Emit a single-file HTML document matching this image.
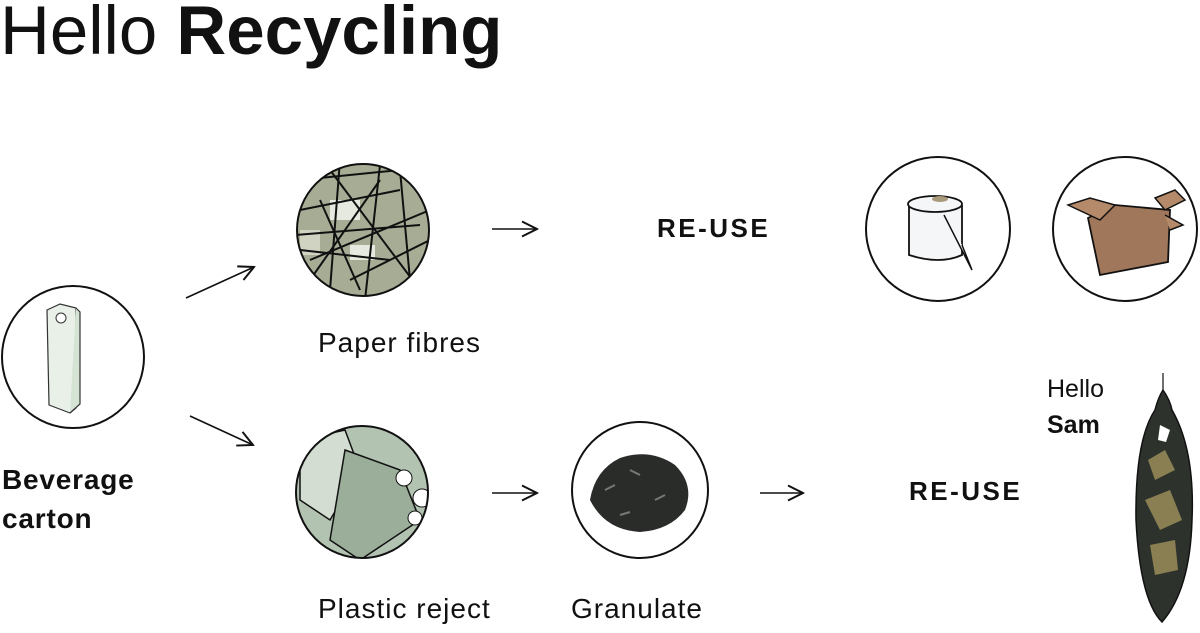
<!DOCTYPE html>
<html><head><meta charset="utf-8"><style>
html,body{margin:0;padding:0;background:#fff;width:1200px;height:633px;overflow:hidden}
svg{display:block}
text{font-family:"Liberation Sans",sans-serif;fill:#111}
</style></head><body>
<svg width="1200" height="633" viewBox="0 0 1200 633" xmlns="http://www.w3.org/2000/svg">
<defs>
<clipPath id="c1"><circle cx="363" cy="230" r="66"/></clipPath>
<clipPath id="c2"><circle cx="362" cy="492" r="66"/></clipPath>
<marker id="ah" viewBox="0 0 12 12" refX="11" refY="6" markerWidth="18" markerHeight="18" markerUnits="userSpaceOnUse" orient="auto"><path d="M1,1 L11,6 L1,11" fill="none" stroke="#111" stroke-width="1.3"/></marker>
</defs>
<text x="0" y="54" font-size="69">Hello <tspan font-weight="bold">Recycling</tspan></text>

<!-- carton -->
<circle cx="73" cy="357" r="71" fill="#fff" stroke="#111" stroke-width="2"/>
<path d="M47,310 L60,304 L76,308 L76,408 L70,413 L49,405 Z" fill="#e8f0e8" stroke="#333" stroke-width="1.2"/>
<path d="M76,308 L80,312 L80,404 L70,413" fill="#d5e3d5" stroke="#333" stroke-width="1.2"/>
<circle cx="61" cy="318" r="5" fill="#fff" stroke="#333"/>
<text x="2" y="489" font-size="28" font-weight="bold" letter-spacing="0.8">Beverage</text>
<text x="2" y="528" font-size="28" font-weight="bold" letter-spacing="0.8">carton</text>

<!-- arrows -->
<g stroke="#111" stroke-width="1.6" fill="none">
<line x1="186" y1="298" x2="254" y2="267" marker-end="url(#ah)"/>
<line x1="190" y1="416" x2="253" y2="445" marker-end="url(#ah)"/>
<line x1="492" y1="229" x2="537" y2="229" marker-end="url(#ah)"/>
<line x1="492" y1="493" x2="537" y2="493" marker-end="url(#ah)"/>
<line x1="760" y1="493" x2="803" y2="493" marker-end="url(#ah)"/>
</g>

<!-- paper fibres -->
<g clip-path="url(#c1)">
<rect x="290" y="160" width="150" height="140" fill="#a7ad95"/>
<rect x="330" y="200" width="30" height="20" fill="#e6e9df"/>
<rect x="350" y="245" width="25" height="15" fill="#e6e9df"/>
<rect x="300" y="230" width="20" height="25" fill="#d0d3c2"/>
<g stroke="#111" stroke-width="2">
<line x1="300" y1="180" x2="420" y2="168"/><line x1="310" y1="260" x2="430" y2="210"/>
<line x1="320" y1="200" x2="360" y2="290"/><line x1="330" y1="170" x2="420" y2="290"/>
<line x1="295" y1="235" x2="420" y2="225"/><line x1="340" y1="160" x2="330" y2="290"/>
<line x1="380" y1="165" x2="365" y2="300"/><line x1="300" y1="210" x2="400" y2="190"/>
<line x1="350" y1="280" x2="430" y2="240"/><line x1="310" y1="280" x2="380" y2="180"/>
<line x1="400" y1="170" x2="410" y2="280"/><line x1="300" y1="250" x2="390" y2="260"/>
</g></g>
<circle cx="363" cy="230" r="66" fill="none" stroke="#111" stroke-width="2"/>
<text x="318" y="352" font-size="28" letter-spacing="1">Paper fibres</text>

<!-- plastic reject -->
<g clip-path="url(#c2)">
<rect x="290" y="420" width="150" height="150" fill="#b3c3b2"/>
<path d="M300,440 L345,430 L360,470 L330,520 L300,500 Z" fill="#d3ddd2" stroke="#111" stroke-width="1.5"/>
<path d="M345,450 L400,470 L420,520 L360,560 L330,540 Z" fill="#9aae9a" stroke="#111" stroke-width="1.5"/>
<circle cx="404" cy="478" r="8" fill="#fff" stroke="#111"/>
<circle cx="422" cy="498" r="9" fill="#fff" stroke="#111"/>
<circle cx="415" cy="518" r="7" fill="#fff" stroke="#111"/>
</g>
<circle cx="362" cy="492" r="66" fill="none" stroke="#111" stroke-width="2"/>
<text x="318" y="618" font-size="28" letter-spacing="1">Plastic reject</text>

<!-- granulate -->
<circle cx="640" cy="490" r="68" fill="#fff" stroke="#111" stroke-width="2"/>
<path d="M590,500 Q595,470 620,458 Q650,448 675,465 Q695,485 685,510 Q670,530 640,532 Q605,530 590,500 Z" fill="#2a2c2a"/>
<path d="M605,490 L615,485 M630,470 L640,475 M655,500 L665,495 M620,515 L630,512" stroke="#777" stroke-width="2"/>
<text x="571" y="618" font-size="28" letter-spacing="1">Granulate</text>

<text x="657" y="237" font-size="26" font-weight="bold" letter-spacing="2.5">RE-USE</text>
<text x="909" y="500" font-size="26" font-weight="bold" letter-spacing="2.5">RE-USE</text>

<!-- toilet roll -->
<circle cx="938" cy="229" r="72" fill="#fff" stroke="#111" stroke-width="2"/>
<path d="M909,205 L909,255 Q940,265 962,255 L962,205" fill="#f4f6f8" stroke="#111" stroke-width="1.8"/>
<ellipse cx="935" cy="204" rx="27" ry="8" fill="#f4f6f8" stroke="#111" stroke-width="1.8"/>
<ellipse cx="940" cy="199" rx="8" ry="3" fill="#a89a7a"/>
<path d="M944,215 L972,270 L962,245" fill="#fff" stroke="#111" stroke-width="1.5"/>

<!-- box -->
<circle cx="1125" cy="229" r="72" fill="#fff" stroke="#111" stroke-width="2"/>
<path d="M1088,218 L1100,275 L1168,262 L1170,210 L1115,205 Z" fill="#a0775a" stroke="#111" stroke-width="1.8"/>
<path d="M1068,205 L1100,220 L1115,205 L1090,198 Z" fill="#b58a6a" stroke="#111" stroke-width="1.5"/>
<path d="M1165,210 L1185,200 L1175,190 L1155,198 Z" fill="#b58a6a" stroke="#111" stroke-width="1.5"/>
<path d="M1165,215 L1183,225 L1170,230" fill="#b58a6a" stroke="#111" stroke-width="1.5"/>

<!-- Hello Sam -->
<text x="1047" y="397" font-size="25">Hello</text>
<text x="1047" y="433" font-size="25" font-weight="bold">Sam</text>
<line x1="1163" y1="373" x2="1163" y2="392" stroke="#111" stroke-width="1.2"/>
<path d="M1163,390 Q1170,400 1172,410 Q1195,450 1192,520 Q1190,590 1162,622 Q1140,600 1136,520 Q1135,440 1155,410 Q1158,398 1163,390 Z" fill="#2d332c" stroke="#111" stroke-width="1.5"/>
<g fill="#8a7f52">
<path d="M1148,460 L1165,450 L1175,470 L1155,480 Z"/>
<path d="M1145,500 L1170,490 L1182,520 L1160,530 Z"/>
<path d="M1150,545 L1175,540 L1178,570 L1155,575 Z"/>
<path d="M1160,425 L1170,430 L1166,442 L1158,440 Z" fill="#fff"/>
</g>
</svg>
</body></html>
